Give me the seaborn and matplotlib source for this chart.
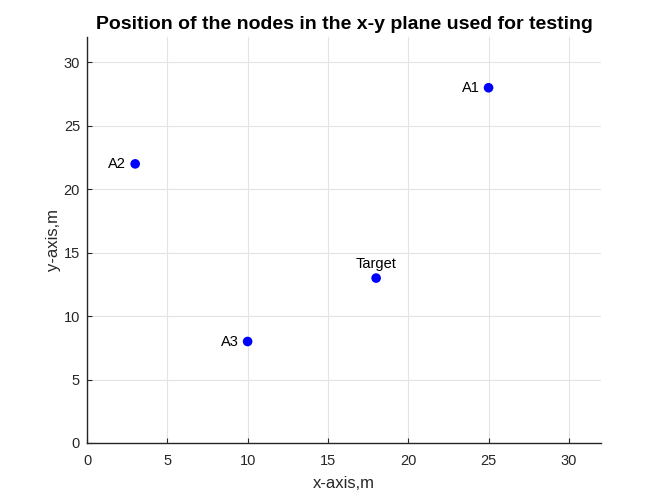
import pandas as pd
import matplotlib
matplotlib.use("Agg")
import matplotlib.pyplot as plt
import seaborn as sns

# Node positions in the x-y plane
names = ["A1", "A2", "A3", "Target"]
x_pos = [25, 3, 10, 18]
y_pos = [28, 22, 8, 13]

df = pd.DataFrame({"name": names, "x": x_pos, "y": y_pos})

sns.set_style("whitegrid", {"grid.color": "#e3e3e3", "axes.edgecolor": "#262626"})
plt.rcParams['font.family'] = ['Liberation Sans', 'DejaVu Sans']

fig = plt.figure(figsize=(6.64, 4.98), dpi=100)
ax = fig.add_axes([87 / 664, 1 - 443 / 498, 514 / 664, 406 / 498])

sns.scatterplot(data=df, x="x", y="y", color="#0000ff", s=48, edgecolor="none", ax=ax, zorder=3)

# labels: anchors at the left of the point, target above
for _, row in df.iterrows():
    if row["name"] == "Target":
        ax.annotate(row["name"], (row["x"], row["y"]), xytext=(0, 5), textcoords="offset points",
                    ha="center", va="bottom", fontsize=10.5, color="black")
    else:
        ax.annotate(row["name"], (row["x"], row["y"]), xytext=(-6.5, 0), textcoords="offset points",
                    ha="right", va="center", fontsize=10.5, color="black")

ax.set_xlim(0, 32)
ax.set_ylim(0, 32)
ax.set_xticks(range(0, 31, 5))
ax.set_yticks(range(0, 31, 5))
ax.tick_params(axis="both", labelsize=10.5, colors="#262626", length=3.5, width=0.8,
               direction="in", bottom=True, left=True)
ax.tick_params(axis="x", pad=8)
ax.tick_params(axis="y", pad=5)
for side in ["top", "right"]:
    ax.spines[side].set_visible(False)
for side in ["left", "bottom"]:
    ax.spines[side].set_linewidth(1.0)

ax.set_title("Position of the nodes in the x-y plane used for testing", fontsize=14,
             fontweight="bold", color="black", pad=6)
ax.set_xlabel("x-axis,m", fontsize=12, color="#262626", labelpad=6)
ax.set_ylabel("y-axis,m", fontsize=12, color="#262626", labelpad=2)

fig.savefig("out.png", dpi=100)
